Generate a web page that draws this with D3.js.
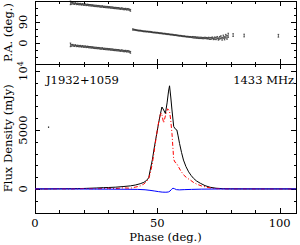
<!DOCTYPE html>
<html>
<head>
<meta charset="utf-8">
<script src="https://cdn.jsdelivr.net/npm/d3@7"></script>
<style>
  body { margin: 0; background: #fff; }
  text { font-family: "DejaVu Serif", serif; font-size: 11.5px; fill: #000; }
</style>
</head>
<body>
<div id="my_dataviz"></div>
<script>
// ---- data ----
// position angle points: [phase, PA, error]
var paTrackA = [[14.5,-8,8],[15,-10,4],[15.5,-9,3],[16,-12,3],[16.5,-10,3],[17,-13,3],[17.5,-12,3],[18,-14,3],[18.5,-13,3],[19,-15,3],
  [19.5,-14,3],[20,-16,3],[20.5,-15,3],[21,-17,3],[21.5,-16,3],[22,-18,3],[22.5,-18,3],[23,-19,3],[23.5,-19,3],[24,-20,3],
  [24.5,-21,3],[25,-21,3],[25.5,-22,3],[26,-22,3],[26.5,-23,3],[27,-24,3],[27.5,-23,3],[28,-25,3],[28.5,-25,3],[29,-26,3],
  [29.5,-26,3],[30,-27,3],[30.5,-27,3],[31,-28,3],[31.5,-28,3],[32,-29,3],[32.5,-30,3],[33,-30,3],[33.5,-31,3],[34,-31,3],
  [34.5,-32,3],[35,-33,3],[35.5,-32,3],[36,-34,3],[36.5,-35,3],[37,-34,3],[37.5,-36,3],[38,-35,3],[38.5,-37,3],[39,-40,4]];

var paTrackB = [[40,58,3],[40.5,57,2],[41,56,2],[41.5,55,2],[42,54,2],[42.5,53,2],[43,53,2],[43.5,52,2],[44,51,2],[44.5,50,2],
  [45,50,2],[45.5,49,2],[46,49,2],[46.5,48,2],[47,48,2],[47.5,47,2],[48,46,2],[48.5,45,2],[49,45,2],[49.5,44,2],
  [50,44,2],[50.5,43,2],[51,42,2],[51.5,42,2],[52,41,2],[52.5,40,2],[53,40,2],[53.5,39,2],[54,38,2],[54.5,38,2],
  [55,37,2],[55.5,36,2],[56,36,2],[56.5,35,2],[57,34,2],[57.5,34,2],[58,33,2],[58.5,32,2],[59,31,2],[59.5,31,2],
  [60,30,2],[60.5,29,2],[61,29,2],[61.5,28,2],[62,27,2],[62.5,27,2],[63,26,2],[63.5,26,2],[64,25,2],[64.5,25,3],
  [65,24,3],[65.5,24,3],[66,23,3],[66.5,23,3],[67,22,3],[67.5,22,3],[68,22,3],[68.5,21,3],[69,21,3],[69.5,22,3],
  [70,21,3],[70.5,20,3],[71,21,4],[71.5,19,4],[72,20,4],[72.5,22,4],[73,18,4],[73.5,21,5],[74,19,5],[74.5,23,5],
  [75,17,5],[75.5,22,6],[76,25,6],[76.5,18,6],[77,27,7],[77.5,20,7],[78,29,8],[78.5,24,8],[79,33,9],
  [81,34,6],[85.5,32,6],[99.5,31,6]];

// profiles: [phase, mJy]
var profileI = [[0,0],[5,0],[10,10],[15,20],[20,40],[25,80],[28,110],[30,120],[33,150],[36,200],[39,260],[41,330],
  [43,440],[44.5,560],[45.5,700],[46.5,950],[47.1,1600],[48,2500],[48.8,3550],[49.7,4600],[50.5,5550],[51.3,6400],
  [51.9,6950],[52.6,6700],[53.3,6400],[54,7300],[54.6,8300],[55,8750],[55.5,7800],[56,6700],[56.7,5300],[57.3,5100],
  [58,5000],[58.5,4500],[59.1,3850],[59.9,3100],[60.7,2450],[61.7,1900],[62.8,1450],[63.8,1150],[64.8,900],[66,680],
  [67.6,480],[69.5,280],[71.6,140],[74,60],[77,20],[80,8],[85,0],[106.7,0]];

var profileL = [[0,0],[5,0],[10,15],[15,0],[20,30],[25,10],[30,50],[33,30],[36,90],[39,60],[41,150],[43,250],
  [44.5,420],[45.5,600],[46.5,900],[47.1,1300],[48,2200],[48.8,3300],[49.7,4600],[50.5,5600],[51.2,6300],[51.7,6450],
  [52.6,5600],[53.3,6200],[54.2,6800],[55,6600],[55.5,5800],[56,4700],[56.7,2500],[57.3,2250],[57.8,2200],[58.6,1900],
  [59.4,1600],[60.7,1200],[62,950],[63.5,750],[65,520],[66.2,400],[68,260],[70.3,140],[72,70],[74.4,20],[77,10],
  [80,0],[85,10],[90,0],[106.7,0]];

var profileV = [[0,0],[10,0],[20,-10],[30,-20],[38,-30],[42,-40],[45,-70],[47,-120],[49,-180],[50.5,-230],[52,-270],
  [53.5,-280],[54.5,-260],[55.2,-180],[55.8,-40],[56.4,60],[57,20],[57.8,-60],[59,-80],[61,-60],[64,-40],[68,-20],
  [75,-5],[85,0],[106.7,0]];

var strayPoints = [[5.5, 5250]];

var xTickLabels = [0, 50, 100];
var paTickLabels = [0, 90];
var fluxTickLabels = [0, 5000, 10000];

// ---- layout ----
var W = 300, H = 245;
var left = 35, right = 296, top1 = 1, mid = 64, bottom = 212.5;

var svg = d3.select("#my_dataviz")
    .append("svg")
    .attr("width", W)
    .attr("height", H);

var x = d3.scaleLinear().domain([0, 106.7]).range([left, right]);
var yPA = d3.scaleLinear().domain([-90, 180]).range([mid, top1]);
var yI = d3.scaleLinear().domain([-2000, 10600]).range([bottom, mid]);

var ticks = svg.append("g")
    .attr("stroke", "#000")
    .attr("stroke-width", 1)
    .attr("shape-rendering", "crispEdges");

function xTicks(yEdge, dir) {
    d3.range(0, 107, 10).forEach(function(v) {
        var len = (v % 50 == 0) ? 5 : 2.5;
        var px = Math.round(x(v)) + 0.5;
        ticks.append("line").attr("x1", px).attr("x2", px)
            .attr("y1", yEdge).attr("y2", yEdge + dir * len);
    });
}
function yTicks(scale, vals, majorEvery) {
    vals.forEach(function(v) {
        var len = (v % majorEvery == 0) ? 5 : 2.5;
        var py = Math.round(scale(v)) + 0.5;
        ticks.append("line").attr("x1", left).attr("x2", left + len).attr("y1", py).attr("y2", py);
        ticks.append("line").attr("x1", right).attr("x2", right - len).attr("y1", py).attr("y2", py);
    });
}

// ticks, pointing inward on every side of both panels
xTicks(top1, 1);
xTicks(mid, -1);
xTicks(mid, 1);
xTicks(bottom, -1);
yTicks(yPA, d3.range(-60, 180, 30), 90);
yTicks(yI, d3.range(-1000, 10600, 1000), 5000);

// frames
svg.append("rect")
    .attr("x", left + 0.5).attr("y", top1 + 0.5)
    .attr("width", right - left).attr("height", mid - top1)
    .attr("fill", "none").attr("stroke", "#000").attr("shape-rendering", "crispEdges");
svg.append("rect")
    .attr("x", left + 0.5).attr("y", mid + 0.5)
    .attr("width", right - left).attr("height", bottom - mid)
    .attr("fill", "none").attr("stroke", "#000").attr("shape-rendering", "crispEdges");

// PA points with error bars; first track also shown +180
var paPoints = paTrackA.concat(paTrackA.map(function(d) { return [d[0], d[1] + 180, d[2]]; }), paTrackB);
svg.append("g")
    .selectAll("path")
    .data(paPoints)
    .enter()
    .append("path")
    .attr("d", function(d) {
        var px = x(d[0]), y1 = yPA(d[1] + d[2]), y2 = yPA(d[1] - d[2]);
        return "M" + (px - 0.8) + "," + y1 + "h1.6M" + px + "," + y1 + "V" + y2 + "M" + (px - 0.8) + "," + y2 + "h1.6";
    })
    .attr("stroke", "#000")
    .attr("stroke-width", 0.6)
    .attr("fill", "none");

// profiles
var line = d3.line()
    .x(function(d) { return x(d[0]); })
    .y(function(d) { return yI(d[1]); });

svg.append("path").attr("d", line(profileI))
    .attr("fill", "none").attr("stroke", "#000").attr("stroke-width", 1);
svg.append("path").attr("d", line(profileL))
    .attr("fill", "none").attr("stroke", "#ff0000").attr("stroke-width", 1)
    .attr("stroke-dasharray", "4,2,1,2");
svg.append("path").attr("d", line(profileV))
    .attr("fill", "none").attr("stroke", "#0000ff").attr("stroke-width", 1);

svg.selectAll("stray")
    .data(strayPoints)
    .enter()
    .append("rect")
    .attr("x", function(d) { return x(d[0]) - 0.5; })
    .attr("y", function(d) { return yI(d[1]) - 0.5; })
    .attr("width", 1.2).attr("height", 1.2)
    .attr("fill", "#000");

// tick labels
svg.selectAll("xlab")
    .data(xTickLabels)
    .enter()
    .append("text")
    .attr("x", function(d) { return x(d); })
    .attr("y", 227)
    .style("text-anchor", "middle")
    .text(function(d) { return d; });

svg.selectAll("palab")
    .data(paTickLabels)
    .enter()
    .append("text")
    .attr("transform", function(d) { return "translate(27," + yPA(d) + ") rotate(-90)"; })
    .style("text-anchor", "middle")
    .text(function(d) { return d; });

svg.selectAll("fluxlab")
    .data(fluxTickLabels)
    .enter()
    .append("text")
    .attr("transform", function(d) { return "translate(27," + yI(d) + ") rotate(-90)"; })
    .style("text-anchor", "middle")
    .each(function(d) {
        var t = d3.select(this);
        if (d == 10000) {
            t.append("tspan").text("10");
            t.append("tspan").attr("dy", -4).style("font-size", "8px").text("4");
        } else {
            t.text(d);
        }
    });

// axis titles
svg.append("text")
    .attr("transform", "translate(12," + ((top1 + mid) / 2) + ") rotate(-90)")
    .style("text-anchor", "middle")
    .text("P.A. (deg.)");
svg.append("text")
    .attr("transform", "translate(12," + ((mid + bottom) / 2) + ") rotate(-90)")
    .style("text-anchor", "middle")
    .text("Flux Density (mJy)");
svg.append("text")
    .attr("x", (left + right) / 2)
    .attr("y", 240.5)
    .style("text-anchor", "middle")
    .text("Phase (deg.)");

// labels inside the panel
svg.append("text").attr("x", 46).attr("y", 84).text("J1932+1059");
svg.append("text").attr("x", 294).attr("y", 84).style("text-anchor", "end").text("1433 MHz");
</script>
</body>
</html>
